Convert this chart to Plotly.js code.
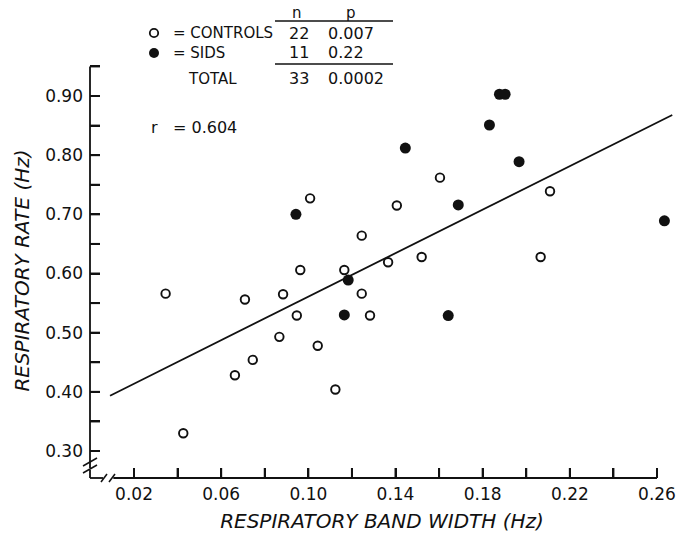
<!DOCTYPE html>
<html>
<head>
<meta charset="utf-8">
<script src="https://cdn.plot.ly/plotly-3.0.1.min.js"></script>
<style>
  html, body { margin: 0; padding: 0; background: #fff; }
  #chart { width: 691px; height: 537px; }
</style>
</head>
<body>
<div id="chart"></div>
<script>
// ---- data ----
const ctrlX = [0.0345, 0.0426, 0.0663, 0.0745, 0.0709, 0.0867, 0.0884, 0.0947, 0.0963, 0.1008, 0.1043,
               0.1124, 0.1165, 0.1245, 0.1283, 0.1245, 0.1366, 0.1406, 0.1520, 0.1604, 0.2066, 0.2109];
const ctrlY = [0.566, 0.330, 0.428, 0.454, 0.556, 0.493, 0.565, 0.529, 0.606, 0.727, 0.478,
               0.404, 0.606, 0.566, 0.529, 0.664, 0.619, 0.715, 0.628, 0.762, 0.628, 0.739];
const sidsX = [0.0943, 0.1183, 0.1165, 0.1445, 0.1688, 0.1642, 0.1831, 0.1877, 0.1903, 0.1967, 0.2634];
const sidsY = [0.700, 0.589, 0.530, 0.812, 0.716, 0.529, 0.851, 0.903, 0.903, 0.789, 0.689];
const fitX = [0.009, 0.267];
const fitY = [0.3935, 0.868];

const xTickVals = [0.02, 0.04, 0.06, 0.08, 0.10, 0.12, 0.14, 0.16, 0.18, 0.20, 0.22, 0.24, 0.26];
const xTickText = ['0.02', '', '0.06', '', '0.10', '', '0.14', '', '0.18', '', '0.22', '', '0.26'];
const yTickVals = [0.30, 0.35, 0.40, 0.45, 0.50, 0.55, 0.60, 0.65, 0.70, 0.75, 0.80, 0.85, 0.90, 0.95];
const yTickText = ['0.30', '', '0.40', '', '0.50', '', '0.60', '', '0.70', '', '0.80', '', '0.90', ''];

const tableHeader = ['n', 'p'];
const groupLabels = ['= CONTROLS', '= SIDS', 'TOTAL'];
const groupN = ['22', '11', '33'];
const groupP = ['0.007', '0.22', '0.0002'];
const rLabel = ['r', '= 0.604'];
const xTitle = 'RESPIRATORY BAND WIDTH (Hz)';
const yTitle = 'RESPIRATORY RATE (Hz)';

// ---- layout geometry ----
const W = 691, H = 537;
const M = {l: 90, r: 17, t: 63, b: 59};
const PW = W - M.l - M.r, PH = H - M.t - M.b;
const XR = [-0.0002, 0.2678], YR = [0.2544, 0.9558];
const px = v => (v - M.l) / PW;          // pixel x -> paper
const py = v => (H - M.b - v) / PH;      // pixel y -> paper
const FONT = 'DejaVu Sans, sans-serif';
const INK = '#111';
const TICKLEN = 10;

// inward tick marks, built from the tick values (length converted from pixels to axis units)
const tdy = TICKLEN * (YR[1] - YR[0]) / PH, tdx = TICKLEN * (XR[1] - XR[0]) / PW;
const tickSegX = [], tickSegY = [];
xTickVals.forEach(v => { tickSegX.push(v, v, null); tickSegY.push(YR[0], YR[0] + tdy, null); });
yTickVals.forEach(v => { tickSegX.push(XR[0], XR[0] + tdx, null); tickSegY.push(v, v, null); });

const traces = [
  {x: tickSegX, y: tickSegY, mode: 'lines', type: 'scatter', line: {color: INK, width: 2},
   connectgaps: false, hoverinfo: 'skip', showlegend: false},
  {x: fitX, y: fitY, mode: 'lines', type: 'scatter', line: {color: INK, width: 1.8},
   hoverinfo: 'skip', showlegend: false},
  {x: ctrlX, y: ctrlY, mode: 'markers', type: 'scatter', name: 'CONTROLS',
   marker: {symbol: 'circle', size: 8.5, color: '#fff', line: {color: INK, width: 1.9}}, showlegend: false},
  {x: sidsX, y: sidsY, mode: 'markers', type: 'scatter', name: 'SIDS',
   marker: {symbol: 'circle', size: 11, color: INK, line: {width: 0}}, showlegend: false}
];

const ann = [];
function txt(text, x, y, anchor, size) {
  ann.push({text: text, xref: 'paper', yref: 'paper', x: px(x), y: py(y), xanchor: anchor,
            yanchor: 'middle', showarrow: false, font: {family: FONT, size: size || 15, color: INK}});
}
txt(tableHeader[0], 297, 13, 'center');
txt(tableHeader[1], 351, 13, 'center');
const rowY = [33, 53, 79];
for (let i = 0; i < 3; i++) {
  txt(groupLabels[i], i < 2 ? 171 : 186, rowY[i], 'left');
  txt(groupN[i], 299, rowY[i], 'center', 16);
  txt(groupP[i], 326, rowY[i], 'left', 16);
}
txt(rLabel[0], 154, 127, 'center', 16);
txt(rLabel[1], 171, 127, 'left', 16);

const shapes = [];
function seg(x0, y0, x1, y1, w) {
  shapes.push({type: 'line', xref: 'paper', yref: 'paper', x0: px(x0), y0: py(y0), x1: px(x1), y1: py(y1),
               line: {color: INK, width: w || 1.8}});
}
// table rules
seg(275, 21, 393, 21, 1.5);
seg(275, 64, 393, 64, 1.5);
// legend symbols
shapes.push({type: 'circle', xref: 'paper', yref: 'paper', xsizemode: 'pixel', ysizemode: 'pixel',
             xanchor: px(154), yanchor: py(33), x0: -4.2, x1: 4.2, y0: -4.2, y1: 4.2,
             fillcolor: '#fff', line: {color: INK, width: 1.8}});
shapes.push({type: 'circle', xref: 'paper', yref: 'paper', xsizemode: 'pixel', ysizemode: 'pixel',
             xanchor: px(154), yanchor: py(53), x0: -5, x1: 5, y0: -5, y1: 5,
             fillcolor: INK, line: {color: INK, width: 0}});
// y axis with break (top end at the 0.95 tick)
shapes.push({type: 'line', xref: 'paper', yref: 'y', x0: 0, x1: 0, y0: yTickVals[yTickVals.length - 1], y1: 0.2715,
             line: {color: INK, width: 1.8}});
seg(90, 470, 90, 478);
seg(83, 466, 97, 458, 1.5);
seg(83, 473, 97, 465, 1.5);
// x axis with break
shapes.push({type: 'line', xref: 'paper', yref: 'paper', x0: px(90), x1: px(103), y0: 0, y1: 0,
             line: {color: INK, width: 1.8}});
seg(101, 482, 107, 474, 1.5);
seg(109, 482, 115, 474, 1.5);
shapes.push({type: 'line', xref: 'x', yref: 'paper', x0: 0.0105, x1: xTickVals[xTickVals.length - 1], y0: 0, y1: 0,
             line: {color: INK, width: 1.8}});

const layout = {
  width: W, height: H,
  margin: M,
  paper_bgcolor: '#fff', plot_bgcolor: '#fff',
  showlegend: false,
  font: {family: FONT, size: 16, color: INK},
  xaxis: {
    range: XR, showgrid: false, zeroline: false, showline: false,
    tickmode: 'array', tickvals: xTickVals, ticktext: xTickText,
    ticks: 'inside', ticklen: TICKLEN, tickwidth: 2, tickcolor: INK,
    tickfont: {family: FONT, size: 17, color: INK},
    ticklabelstandoff: 4,
    title: {text: '<i>' + xTitle + '</i>', font: {family: FONT, size: 20, color: INK}, standoff: 10},
    automargin: false
  },
  yaxis: {
    range: YR, showgrid: false, zeroline: false, showline: false,
    tickmode: 'array', tickvals: yTickVals, ticktext: yTickText,
    ticks: 'inside', ticklen: TICKLEN, tickwidth: 2, tickcolor: INK,
    tickfont: {family: FONT, size: 17, color: INK},
    ticklabelstandoff: 6,
    title: {text: '<i>' + yTitle + '</i>', font: {family: FONT, size: 20, color: INK}, standoff: 10},
    automargin: false
  },
  annotations: ann,
  shapes: shapes
};

Plotly.newPlot('chart', traces, layout, {displayModeBar: false, staticPlot: true});
</script>
</body>
</html>
